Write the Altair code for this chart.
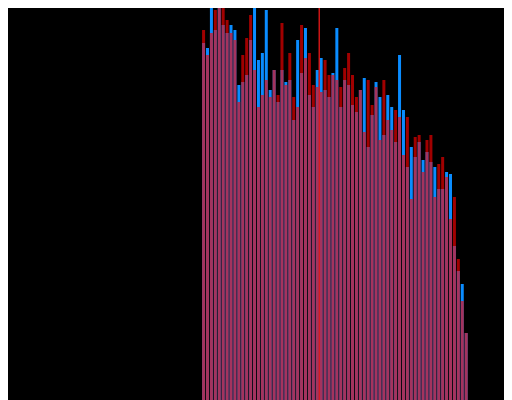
import altair as alt
import pandas as pd

# bar heights (pixel units, bottom = 0)
red_heights = [370, 345, 367, 390, 400, 392, 380, 367, 360, 298, 345, 362, 385, 330, 293, 305, 320, 303,
               330, 305, 377, 315, 347, 303, 293, 375, 342, 347, 315, 313, 308, 340, 325, 325, 320, 313,
               332, 347, 325, 303, 310, 268, 320, 295, 313, 260, 320, 280, 270, 290, 283, 245, 283, 201,
               263, 265, 228, 260, 265, 203, 236, 243, 223, 181, 203, 141, 99, 67]
blue_heights = [357, 352, 397, 370, 395, 375, 367, 375, 370, 315, 318, 325, 360, 392, 340, 347, 390, 310,
                330, 298, 330, 318, 320, 280, 360, 327, 372, 305, 293, 330, 342, 310, 303, 327, 372, 293,
                320, 315, 295, 288, 310, 322, 253, 285, 318, 303, 265, 305, 293, 258, 345, 290, 233, 253,
                243, 258, 240, 248, 238, 233, 211, 211, 228, 226, 154, 129, 116, 67]
bins = list(range(len(red_heights)))
mean_line = [29.5]

df = pd.DataFrame({"bin": bins, "red": red_heights, "blue": blue_heights})
mean_df = pd.DataFrame({"mean": mean_line})

xscale = alt.Scale(domain=[-48.625, 75.375], nice=False, zero=False)
yscale = alt.Scale(domain=[0, 392], nice=False, zero=True)

base = alt.Chart(df)
blue = base.mark_bar(color="#0a8cff", width=3, clip=True).encode(
    x=alt.X("bin:Q", scale=xscale, axis=None),
    y=alt.Y("blue:Q", scale=yscale, axis=None),
)
red = base.mark_bar(color="#ff0000", opacity=0.63, width=3, clip=True).encode(
    x=alt.X("bin:Q", scale=xscale, axis=None),
    y=alt.Y("red:Q", scale=yscale, axis=None),
)
rule = alt.Chart(mean_df).mark_rule(color="#ff1a1a", strokeWidth=1.2, clip=True).encode(
    x=alt.X("mean:Q", scale=xscale, axis=None),
)

chart = alt.layer(blue, red, rule).properties(
    width=496, height=392, background="black", padding=0,
    autosize=alt.AutoSizeParams(type="none"),
).configure_view(stroke=None)

chart.save("out.html", embed_options={"renderer": "svg", "actions": False})
